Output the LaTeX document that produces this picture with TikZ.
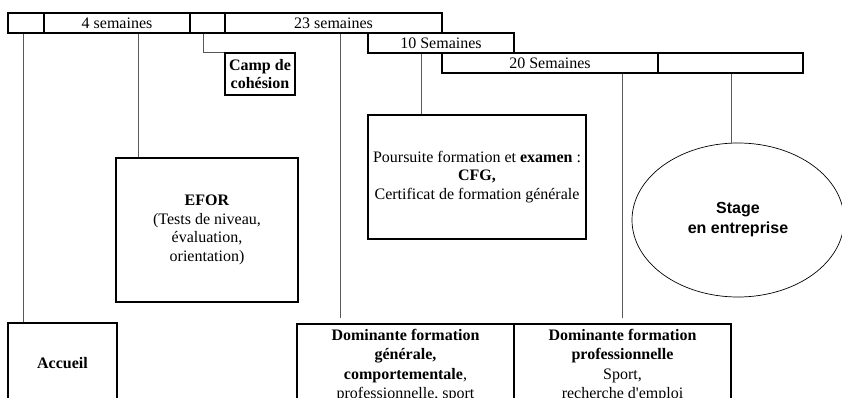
\documentclass[tikz,border=0pt]{standalone}
\usepackage{fontspec}
\setmainfont{Liberation Serif}
\newfontfamily\arialfont{Liberation Sans}
\usetikzlibrary{shapes.geometric}

\tikzset{
  cell/.style={draw, line width=1.4pt, minimum height=20pt, inner sep=0pt,
    font=\fontsize{16}{18.5}\selectfont},
  box/.style={draw, line width=1.8pt, align=center, inner sep=3pt,
    font=\fontsize{16}{18.5}\selectfont},
  dombox/.style={box, anchor=north, minimum width=217, inner ysep=5pt, text depth=30pt,
    font=\fontsize{16}{19.5}\selectfont},
  link/.style={draw=black!65, line width=0.9pt},
}

\begin{document}
\begin{tikzpicture}[x=1pt, y=-1pt]
    \clip (0,0) rectangle (842,398);

    % frise du haut
    \node[cell, minimum width=36] (c1) at (26,23) {};
    \node[cell, minimum width=146] (c2) at (117,23) {4 semaines};
    \node[cell, minimum width=35] (c3) at (207.5,23) {};
    \node[cell, minimum width=217] (c4) at (333.5,23) {23 semaines};
    \node[cell, minimum width=146] (s10) at (441,43) {10 Semaines};
    \node[cell, minimum width=216] (s20) at (550,63) {20 Semaines};
    \node[cell, minimum width=145] (s20b) at (730.5,63) {};

    % etapes
    \node[box, minimum width=70, minimum height=42, inner sep=2pt] (camp) at (260,74)
        {\textbf{Camp de}\\\textbf{cohésion}};
    \node[box, minimum width=182, minimum height=144] (efor) at (207,230)
        {\textbf{EFOR}\\(Tests de niveau,\\évaluation,\\orientation)};
    \node[box, minimum width=218, minimum height=124] (cfg) at (477,177)
        {Poursuite formation et \textbf{examen} :\\\textbf{CFG,}\\Certificat de formation générale};
    \node[draw, ellipse, line width=0.7pt, minimum width=212, minimum height=154,
        inner sep=0pt, align=center, font=\arialfont\bfseries\fontsize{16}{20}\selectfont]
        (stage) at (738,220) {Stage\\en entreprise};
    \node[box, minimum width=109, minimum height=80] (accueil) at (62.5,363) {\textbf{Accueil}};
    \node[dombox] (dom1) at (405.5,323)
        {\textbf{Dominante formation}\\\textbf{générale,}\\\textbf{comportementale},\\professionnelle, sport};
    \node[dombox] (dom2) at (622.5,323)
        {\textbf{Dominante formation}\\\textbf{professionnelle}\\Sport,\\recherche d\textquotesingle emploi};

    % liaisons
    \draw[link] ([xshift=-3]c1.south) -- ([xshift=-3]c1.south |- accueil.north);
    \draw[link] ([xshift=21]c2.south) -- ([xshift=21]c2.south |- efor.north);
    \draw[link] ([xshift=-4.5]c3.south) |- (camp.north west);
    \draw[link, shorten >=5pt] ([xshift=6.5]c4.south) -- ([xshift=6.5]c4.south |- dom1.north);
    \draw[link] ([xshift=-20]s10.south) -- ([xshift=-20]s10.south |- cfg.north);
    \draw[link, shorten >=5pt] (s20.south -| dom2.north) -- (dom2.north);
    \draw[link] ([xshift=-7]stage.north |- s20b.south) -- ([xshift=-7]stage.north);
\end{tikzpicture}
\end{document}
